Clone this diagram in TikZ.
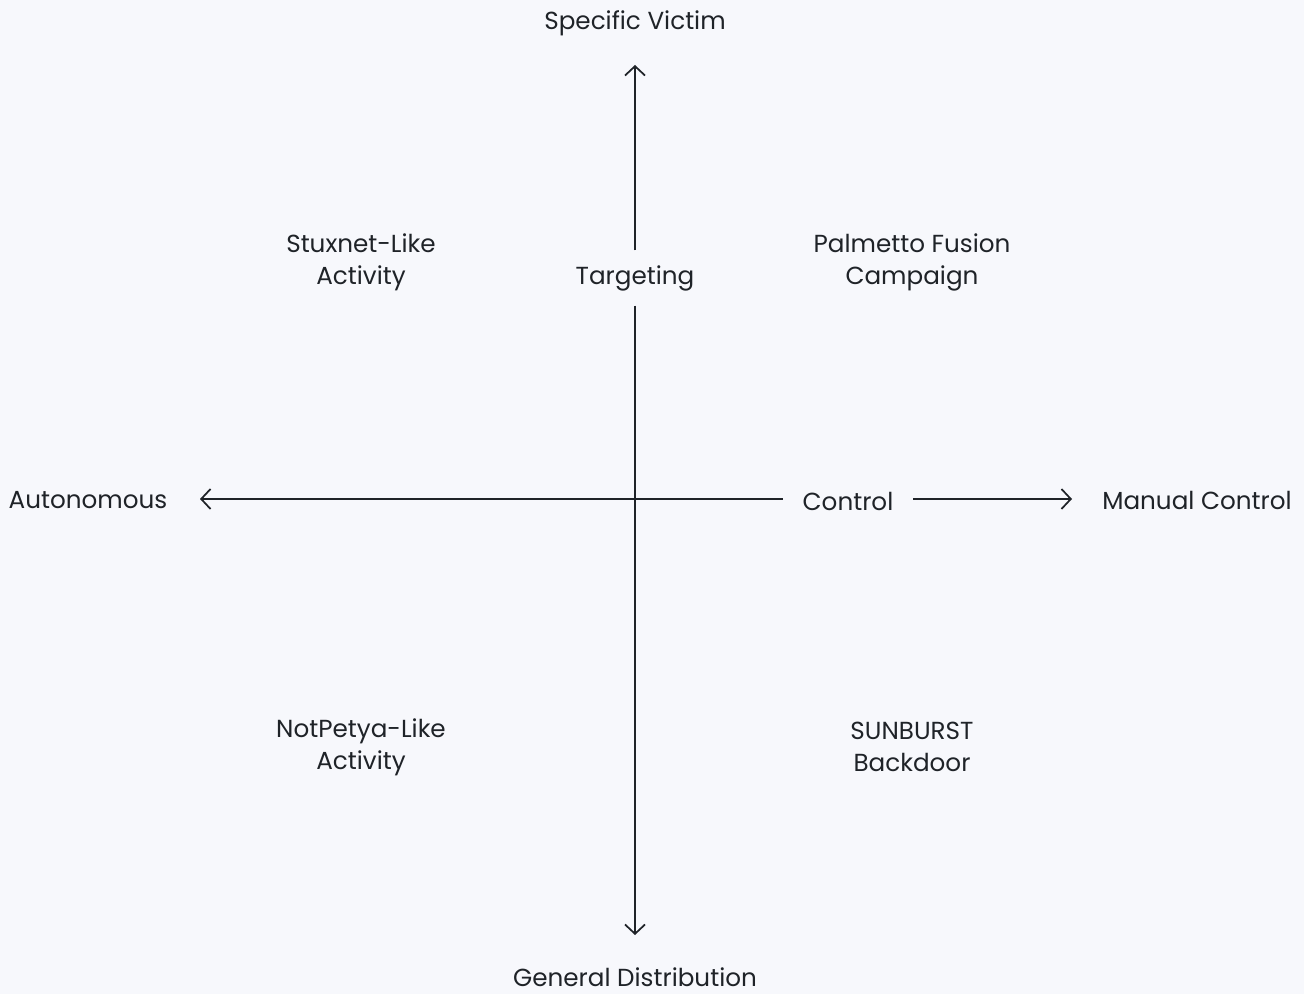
\documentclass[tikz,border=0pt]{standalone}
\usepackage{fontspec}
\setmainfont{Poppins}
\usepackage{tikz}
\usetikzlibrary{arrows.meta, positioning}
\definecolor{bgpaper}{HTML}{F7F8FC}
\definecolor{inkdark}{HTML}{1F2328}

\begin{document}
\begin{tikzpicture}[x=0.75pt, y=-0.75pt]
        \tikzstyle{every node}+=[inner sep=0pt, text=inkdark, font=\fontsize{18.5}{24}\selectfont, align=center]
        \tikzstyle{axis}=[draw=inkdark, line width=1.3pt, -{Straight Barb[length=7pt, width=15pt, line width=1.3pt]}]
        \fill [bgpaper] (0,0) rectangle (1304,994);
        % axis end labels
        \node (victim) at (635,23) {Specific Victim};
        \node (general) at (635,977) {General Distribution};
        \node (auto) at (88,500) {Autonomous};
        \node (manual) at (1197,500) {Manual Control};
        % axis names
        \node (targeting) [minimum height=41pt] at (635,278) {Targeting};
        \node (control) [minimum width=97.5pt] at (848,501) {Control};
        % arrow tips
        \coordinate (victimtip) at (635,65);
        \coordinate (generaltip) at (635,935);
        \coordinate (autotip) at (200,499);
        \coordinate (manualtip) at (1072,499);
        \draw [axis] (targeting.north) -- (victimtip);
        \draw [axis] (targeting.south) -- (generaltip);
        \draw [axis] (control.west |- autotip) -- (autotip);
        \draw [axis] (control.east |- manualtip) -- (manualtip);
        % quadrants
        \node (stuxnet) at (361,262) {Stuxnet-Like\\Activity};
        \node (palmetto) at (912,262) {Palmetto Fusion\\Campaign};
        \node (notpetya) at (361,747) {NotPetya-Like\\Activity};
        \node (sunburst) at (912,747) {SUNBURST\\Backdoor};
\end{tikzpicture}
\end{document}
